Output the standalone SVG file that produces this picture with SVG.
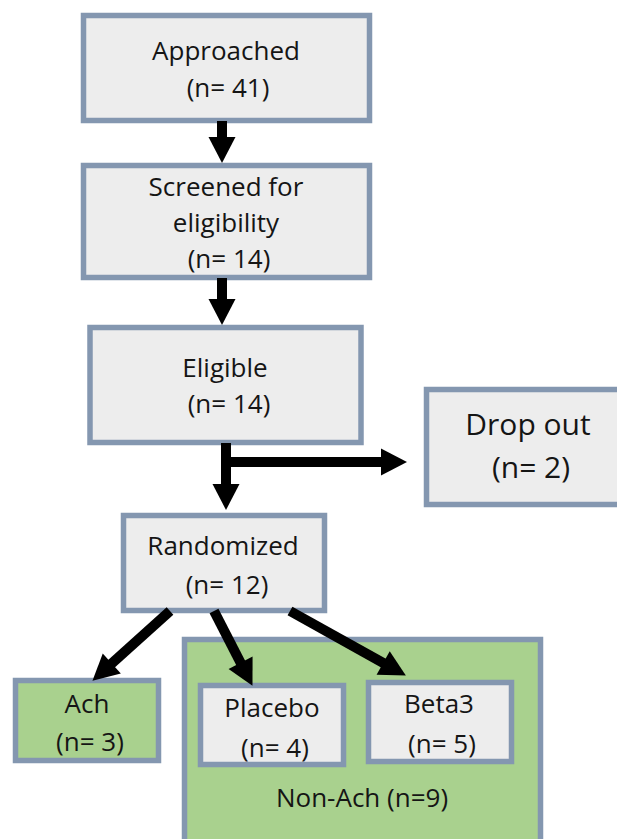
<svg xmlns="http://www.w3.org/2000/svg" width="617" height="839" viewBox="0 0 617 839">
<style>
.box{fill:#ededed;stroke:#8497b0;stroke-width:5.5}
.grn{fill:#a9d18e;stroke:#8497b0;stroke-width:5.5}
text{font-family:"Open Sans","Noto Sans","Liberation Sans",sans-serif;font-size:26px;fill:#151515;text-anchor:middle}
.big{font-size:30px}
.arr{stroke:#000;stroke-width:10;fill:none;marker-end:url(#ah)}
</style>
<defs>
<marker id="ah" markerUnits="userSpaceOnUse" markerWidth="27" markerHeight="27" refX="2" refY="13.5" orient="auto" overflow="visible">
<path d="M0,0 L26,13.5 L0,27 Z" fill="#000"/>
</marker>
</defs>
<rect width="617" height="839" fill="#fff"/>
<g id="nonach">
<rect class="grn" x="184.5" y="639.5" width="356" height="220"/>
<text x="362" y="807">Non-Ach (n=9)</text>
</g>
<g id="approached">
<rect class="box" x="83.5" y="15.5" width="286" height="105"/>
<text x="226" y="60">Approached</text>
<text x="228" y="97">(n= 41)</text>
</g>
<g id="screened">
<rect class="box" x="83.5" y="165.5" width="286" height="112"/>
<text x="226" y="196">Screened for</text>
<text x="226" y="232">eligibility</text>
<text x="229" y="268">(n= 14)</text>
</g>
<g id="eligible">
<rect class="box" x="90" y="327.5" width="271" height="115"/>
<text x="225" y="377">Eligible</text>
<text x="229" y="413">(n= 14)</text>
</g>
<g id="dropout">
<rect class="box" x="426.5" y="389.5" width="200" height="115"/>
<text class="big" x="528" y="435">Drop out</text>
<text class="big" x="531" y="478">(n= 2)</text>
</g>
<g id="randomized">
<rect class="box" x="123.5" y="515.5" width="201" height="95"/>
<text x="223" y="555">Randomized</text>
<text x="227" y="594">(n= 12)</text>
</g>
<g id="ach">
<rect class="grn" x="15.5" y="680.5" width="143" height="80"/>
<text x="87" y="713">Ach</text>
<text x="90" y="751">(n= 3)</text>
</g>
<g id="placebo">
<rect class="box" x="200.5" y="685.5" width="143" height="79"/>
<text x="272" y="717">Placebo</text>
<text x="275" y="757">(n= 4)</text>
</g>
<g id="beta3">
<rect class="box" x="368.5" y="682.5" width="143" height="79"/>
<text x="439" y="713">Beta3</text>
<text x="442" y="753">(n= 5)</text>
</g>
<g id="connectors">
<line class="arr" x1="222" y1="121" x2="222" y2="139"/>
<line class="arr" x1="222" y1="278" x2="222" y2="301"/>
<line class="arr" x1="226" y1="443" x2="226" y2="486"/>
<line class="arr" x1="222" y1="462" x2="383" y2="462"/>
<line class="arr" x1="170" y1="611" x2="110.3" y2="664.8"/>
<line class="arr" x1="214" y1="611" x2="241.5" y2="664.5"/>
<line class="arr" x1="290" y1="611" x2="384.9" y2="663.9"/>
</g>
</svg>
